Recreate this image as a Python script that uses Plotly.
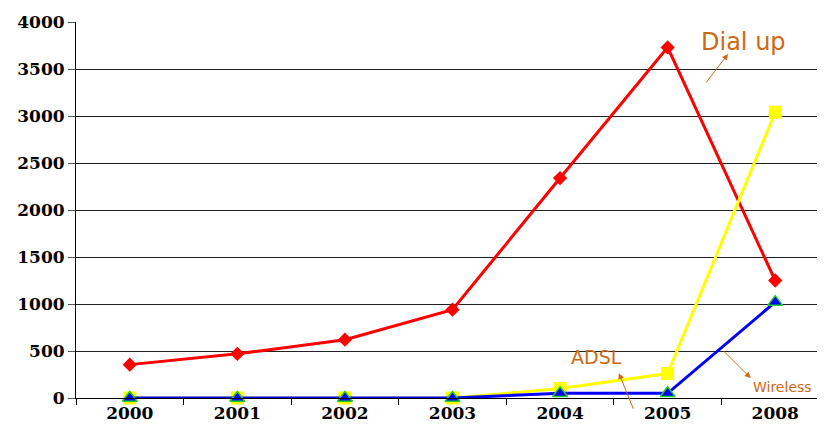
import plotly.graph_objects as go

years = ["2000", "2001", "2002", "2003", "2004", "2005", "2008"]
dial_up = [355, 470, 620, 940, 2340, 3730, 1250]
adsl = [0, 0, 0, 0, 100, 260, 3040]
wireless = [0, 0, 0, 0, 50, 50, 1020]
y_ticks = [0, 500, 1000, 1500, 2000, 2500, 3000, 3500, 4000]

ann_color = "#cc6a14"

fig = go.Figure()
fig.add_trace(go.Scatter(x=years, y=dial_up, mode="lines+markers", name="Dial up",
                         cliponaxis=False,
                         line=dict(color="#ff0000", width=3),
                         marker=dict(symbol="diamond", size=11, color="#ff0000")))
fig.add_trace(go.Scatter(x=years, y=adsl, mode="lines+markers", name="ADSL",
                         cliponaxis=False,
                         line=dict(color="#ffff00", width=3),
                         marker=dict(symbol="square", size=13, color="#ffff00")))
fig.add_trace(go.Scatter(x=years, y=wireless, mode="lines+markers", name="Wireless",
                         cliponaxis=False,
                         line=dict(color="#0000ff", width=3),
                         marker=dict(symbol="triangle-up", size=13, color="#0000ff",
                                     line=dict(color="#22cc22", width=1.5))))

fig.update_layout(
    width=825, height=442,
    margin=dict(l=68, r=4, t=12, b=52),
    paper_bgcolor="white", plot_bgcolor="white",
    showlegend=False,
    font=dict(family="DejaVu Serif", size=17, color="black"),
)
tick_font = dict(family="DejaVu Serif", size=17, color="black", weight="bold")
fig.update_xaxes(type="category", range=[-0.5, 6.5], showgrid=False,
                 showline=True, linecolor="black", linewidth=1,
                 ticks="outside", tickson="boundaries", ticklen=6, tickcolor="black",
                 tickfont=tick_font)
fig.update_yaxes(range=[0, 4000], tickvals=y_ticks,
                 showgrid=True, gridcolor="#222222", gridwidth=1,
                 showline=True, linecolor="black", linewidth=1,
                 ticks="outside", ticklen=7, tickcolor="#555555",
                 zeroline=False, tickfont=tick_font)

labels = [
    ("Dial up", 0.886, 0.947, 24),
    ("ADSL", 0.691, 0.108, 19),
    ("Wireless", 0.938, 0.029, 14),
]
for text, x, y, size in labels:
    fig.add_annotation(text=text, x=x, y=y, xref="paper", yref="paper", showarrow=False,
                       xanchor="center", yanchor="middle",
                       font=dict(family="DejaVu Sans", size=size, color=ann_color))

arrows = [
    (0.866, 0.915, -23, 30),
    (0.721, 0.066, 15, 37),
    (0.896, 0.053, -28, -28),
]
for x, y, ax, ay in arrows:
    fig.add_annotation(text="", x=x, y=y, xref="paper", yref="paper", ax=ax, ay=ay,
                       showarrow=True, arrowhead=2, arrowsize=1.2, arrowwidth=1,
                       arrowcolor=ann_color)

fig.write_html("out.html")
